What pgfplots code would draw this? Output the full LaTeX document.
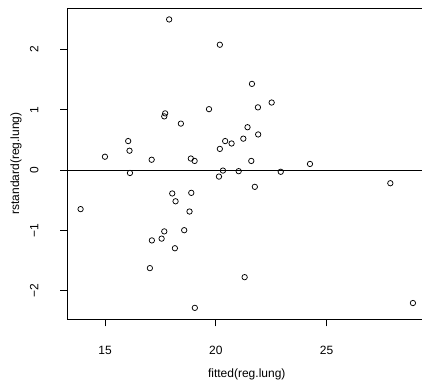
\documentclass[border=0pt]{standalone}
\usepackage{fontspec}
\setmainfont{Liberation Sans}
\usepackage{pgfplots}
\pgfplotsset{compat=1.18}

\begin{document}
\begin{tikzpicture}[x=1bp,y=1bp]
  \useasboundingbox (0,0) rectangle (422,381);
  \clip (0,0) rectangle (422,381);
  \begin{axis}[
    at={(67.3bp,61.7bp)}, anchor=south west,
    scale only axis, width=358.9bp, height=311.3bp,
    xmin=13.29, xmax=29.50, ymin=-2.48, ymax=2.69,
    axis line style={black, line width=0.75bp},
    xtick={15,20,25}, ytick={-2,-1,0,1,2},
    yticklabels={−2,−1,0,1,2},
    tick pos=left, tick align=outside,
    major tick length=7bp,
    every tick/.style={black, line width=0.75bp},
    /pgf/number format/assume math mode=true,
    ticklabel style={font=\fontsize{12bp}{14bp}\selectfont},
    xticklabel style={anchor=center, yshift=-24.5bp},
    yticklabel style={anchor=center, rotate=90, yshift=26.1bp},
    xlabel={fitted(reg.lung)}, ylabel={rstandard(reg.lung)},
    label style={font=\fontsize{12bp}{14bp}\selectfont},
    xlabel style={at={(axis description cs:0.5,-0.176)}, anchor=center},
    ylabel style={at={(axis description cs:-0.143,0.5)}, anchor=center},
    clip=false,
  ]
    % reference line at zero residual
    \addplot[black, line width=0.75bp] coordinates {(13.29,0) (29.50,0)};
    % standardized residuals against fitted values
    \addplot[only marks, mark=o, mark size=2.7bp,
             mark options={black, line width=0.75bp}] coordinates {
      (17.89,2.50) (20.18,2.08) (17.71,0.94) (17.67,0.89) (19.69,1.01)
      (18.42,0.77) (16.04,0.48) (16.10,0.32) (14.99,0.22) (17.10,0.17)
      (18.87,0.19) (19.04,0.15) (20.42,0.48) (20.71,0.44) (20.18,0.35)
      (21.63,1.43) (22.52,1.12) (21.90,1.04) (21.43,0.71) (21.24,0.52)
      (21.91,0.59) (21.60,0.15) (24.25,0.10) (16.12,-0.05) (20.32,-0.01)
      (20.14,-0.11) (21.03,-0.02) (13.89,-0.65) (18.03,-0.39) (18.89,-0.38)
      (18.18,-0.52) (18.81,-0.69) (17.67,-1.02) (18.57,-1.00) (17.11,-1.17)
      (17.55,-1.14) (18.15,-1.30) (17.02,-1.63) (19.05,-2.29) (22.93,-0.03)
      (21.76,-0.28) (27.88,-0.22) (21.30,-1.78) (28.90,-2.21)
    };
  \end{axis}
\end{tikzpicture}
\end{document}
